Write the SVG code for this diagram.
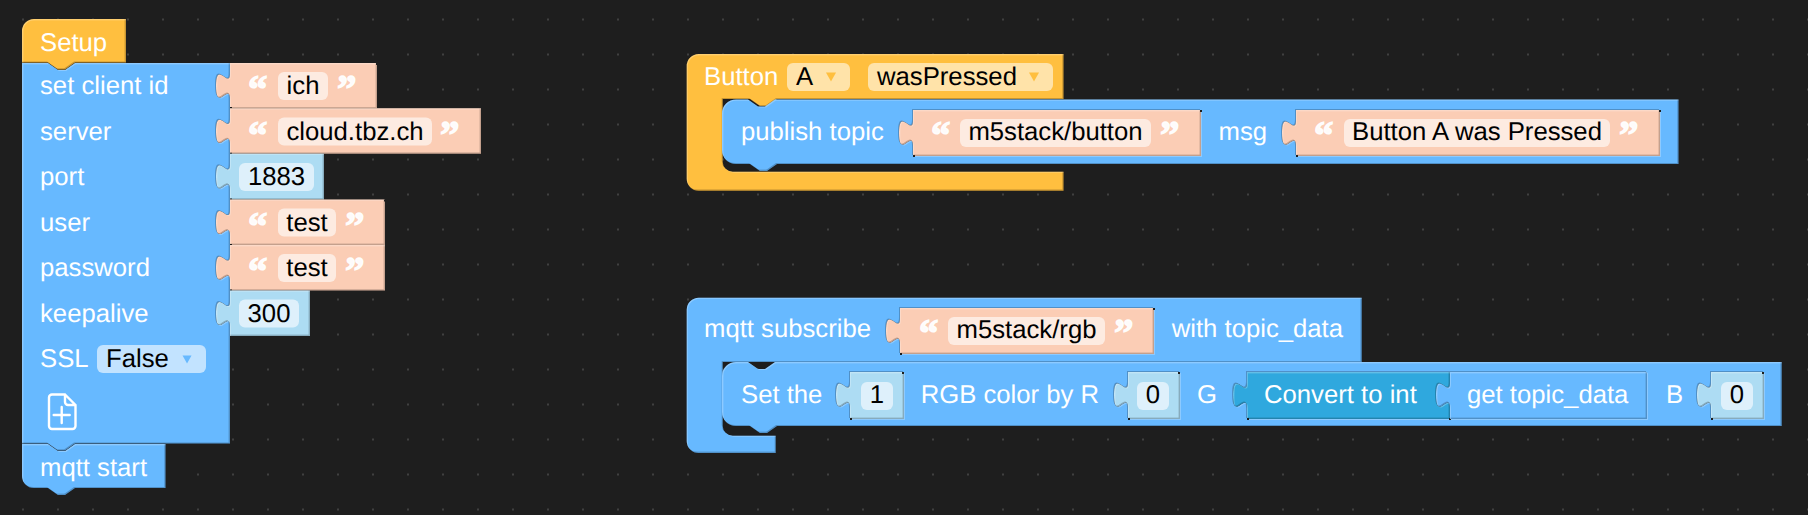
<svg xmlns="http://www.w3.org/2000/svg" width="1808" height="515" viewBox="0 0 1808 515">
<style>
text{font-family:"Liberation Sans",Arial,sans-serif;font-size:25.7px;text-rendering:geometricPrecision}
.w{fill:#fff}
.k{fill:#000;text-anchor:middle}
.l{fill:#000}
.q{font-family:"Liberation Serif","Times New Roman",serif;font-weight:bold;font-size:39px;fill:#fff;stroke:#fff;stroke-width:1.4;fill-opacity:.95;stroke-opacity:.95}
.blue,.yel,.str,.num,.cvt{filter:url(#bevel);fill-rule:evenodd}
.blue{fill:#67B9FF}
.yel{fill:#FFBF3F}
.str{fill:#FBCDB5}
.num{fill:#ADDCF3}
.cvt{fill:#2FA8DE}
.fs{fill:#FDEBE1}
.fn{fill:#DEF0FB}
.fb{fill:#C2E3FF}
.fy{fill:#FFE3A9}
.ty{fill:#FFBF3F}
.tb{fill:#67B9FF}
.sp{fill:#1E1E1E}
.ic{fill:none;stroke:#fff;stroke-width:2.4;stroke-linejoin:round;stroke-linecap:round}
</style>
<defs>
<pattern id="grid" x="22" y="18.5" width="35" height="35" patternUnits="userSpaceOnUse"><circle cx="1" cy="1" r="1" fill="#4a4a4a"/></pattern>
<filter id="bevel" x="-5%" y="-5%" width="110%" height="110%" color-interpolation-filters="sRGB">
<feOffset in="SourceAlpha" dx="-1.4" dy="-1.4" result="a"/>
<feComposite in="SourceAlpha" in2="a" operator="out" result="ea"/>
<feFlood flood-color="#000" flood-opacity=".22"/>
<feComposite in2="ea" operator="in" result="d"/>
<feOffset in="SourceAlpha" dx="1.4" dy="1.4" result="b"/>
<feComposite in="SourceAlpha" in2="b" operator="out" result="eb"/>
<feFlood flood-color="#fff" flood-opacity=".25"/>
<feComposite in2="eb" operator="in" result="h"/>
<feMerge><feMergeNode in="SourceGraphic"/><feMergeNode in="d"/><feMergeNode in="h"/></feMerge>
</filter>
</defs>
<rect width="1808" height="515" fill="#1E1E1E"/>
<rect width="1808" height="515" fill="url(#grid)"/>
<g id="connectors"/>

<g id="mqtt-start">
<path class="blue" d="M22,444 H48 l10,7 h7 l10,-7 H165.500 V488 H75 l-10,7 h-7 l-10,-7 H34 a12,12 0 0 1 -12,-12 Z"/>
<text class="w" x="40" y="476">mqtt start</text>
</g>
<g id="mqtt-setup">
<path class="blue" d="M22,63 H48 l10,7 h7 l10,-7 H230 V73 c0,17.500 -14,-14 -14,13 s14,-4.400 14,13 V118.300 c0,17.500 -14,-14 -14,13 s14,-4.400 14,13 V163.800 c0,17.500 -14,-14 -14,13 s14,-4.400 14,13 V209.500 c0,17.500 -14,-14 -14,13 s14,-4.400 14,13 V255 c0,17.500 -14,-14 -14,13 s14,-4.400 14,13 V300.500 c0,17.500 -14,-14 -14,13 s14,-4.400 14,13 V443.500 H75 l-10,7 h-7 l-10,-7 H22 Z"/>
<text class="w" x="40" y="94">set client id</text>
<text class="w" x="40" y="140">server</text>
<text class="w" x="40" y="185">port</text>
<text class="w" x="40" y="231">user</text>
<text class="w" x="40" y="276">password</text>
<text class="w" x="40" y="322">keepalive</text>
<text class="w" x="40" y="367">SSL</text>
<rect class="fb" x="97" y="345" width="109" height="28" rx="6"/>
<text class="l" x="106" y="367">False</text>
<path class="tb" d="M182.500,355.500 H191.500 L187,363.500 Z"/>
<path class="ic" d="M52,394.500 H65 L75.500,405 V426 a3,3 0 0 1 -3,3 H52 a3,3 0 0 1 -3,-3 V397.500 a3,3 0 0 1 3,-3 Z M65,394.500 V402 a3,3 0 0 0 3,3 H75.500 M61.700,407 V423 M53.700,415 H69.700"/>
</g>
<g id="setup-hat">
<path class="yel" d="M22,62.500 V31 a12,12 0 0 1 12,-12 H126 V62.500 H75 l-10,7 h-7 l-10,-7 Z"/>
<text class="w" x="40" y="51">Setup</text>
</g>
<g id="client-id">
<path class="str" d="M230,63 V73 c0,17.500 -14,-14 -14,13 s14,-4.400 14,13 V108.300 H377 V63 Z"/>
<path class="sp" d="M376,63h2v2h-2z M230,107h2v2h-2z"/>
<text class="q" x="248" y="102">“</text>
<rect class="fs" x="278" y="72" width="50" height="28" rx="6"/>
<text class="k" x="303" y="94">ich</text>
<text class="q" x="337" y="102">”</text>
</g>
<g id="server">
<path class="str" d="M230,108.300 V118.300 c0,17.500 -14,-14 -14,13 s14,-4.400 14,13 V153.800 H481 V108.300 Z"/>
<path class="sp" d="M230,152.800h2v2h-2z"/>
<text class="q" x="248" y="147.500">“</text>
<rect class="fs" x="278" y="117.500" width="154" height="28" rx="6"/>
<text class="k" x="355" y="139.500">cloud.tbz.ch</text>
<text class="q" x="440" y="147.500">”</text>
</g>
<g id="port">
<path class="num" d="M230,153.800 V163.800 c0,17.500 -14,-14 -14,13 s14,-4.400 14,13 V199.500 H324 V153.800 Z"/>
<path class="sp" d="M230,198.500h2v2h-2z"/>
<rect class="fn" x="239" y="163" width="75" height="28" rx="6"/>
<text class="k" x="276.500" y="185">1883</text>
</g>
<g id="user">
<path class="str" d="M230,199.500 V209.500 c0,17.500 -14,-14 -14,13 s14,-4.400 14,13 V245 H385 V199.500 Z"/>
<path class="sp" d="M384,199.500h2v2h-2z M230,244h2v2h-2z"/>
<text class="q" x="248" y="238.500">“</text>
<rect class="fs" x="278" y="208.500" width="58" height="28" rx="6"/>
<text class="k" x="307" y="231">test</text>
<text class="q" x="345" y="238.500">”</text>
</g>
<g id="password">
<path class="str" d="M230,245 V255 c0,17.500 -14,-14 -14,13 s14,-4.400 14,13 V290.500 H385 V245 Z"/>
<path class="sp" d="M230,289.500h2v2h-2z"/>
<text class="q" x="248" y="284">“</text>
<rect class="fs" x="278" y="254" width="58" height="28" rx="6"/>
<text class="k" x="307" y="276">test</text>
<text class="q" x="345" y="284">”</text>
</g>
<g id="keepalive">
<path class="num" d="M230,290.500 V300.500 c0,17.500 -14,-14 -14,13 s14,-4.400 14,13 V336 H310 V290.500 Z"/>
<rect class="fn" x="239" y="299.500" width="60" height="28" rx="6"/>
<text class="k" x="269" y="322">300</text>
</g>

<g id="button-event">
<path class="yel" d="M686.700,66 a12,12 0 0 1 12,-12 H1063.500 V99 H777 l-10,7 h-7 l-10,-7 H722.700 V161.700 a10,10 0 0 0 10,10 H1063.500 V190.700 H698.700 a12,12 0 0 1 -12,-12 Z"/>
<text class="w" x="704" y="85">Button</text>
<rect class="fy" x="787" y="63" width="63" height="28" rx="6"/>
<text class="l" x="796" y="85">A</text>
<path class="ty" d="M826,72.500 H836 L831,81.500 Z"/>
<rect class="fy" x="868" y="63" width="185" height="28" rx="6"/>
<text class="l" x="877" y="85">wasPressed</text>
<path class="ty" d="M1029,72.500 H1039 L1034,81.500 Z"/>
</g>
<g id="publish">
<path class="blue" d="M736,99.500 H748 l10,7 h7 l10,-7 H1678.500 V164 H777 l-10,7 h-7 l-10,-7 H736 a14,14 0 0 1 -14,-14 V113.500 a14,14 0 0 1 14,-14 Z M913,110 V120 c0,17.500 -14,-14 -14,13 s14,-4.400 14,13 V156 H1201 V110 Z M1296,110 V120 c0,17.500 -14,-14 -14,13 s14,-4.400 14,13 V156 H1660 V110 Z"/>
<text class="w" x="741" y="140">publish topic</text>
<text class="w" x="1218.500" y="140">msg</text>
</g>
<g id="publish-topic">
<path class="str" d="M913,110 V120 c0,17.500 -14,-14 -14,13 s14,-4.400 14,13 V156 H1201 V110 Z"/>
<path class="sp" d="M1200,110h2v2h-2z M913,155h2v2h-2z"/>
<text class="q" x="931" y="148">“</text>
<rect class="fs" x="960" y="119" width="191" height="28" rx="6"/>
<text class="k" x="1055.500" y="140">m5stack/button</text>
<text class="q" x="1160" y="148">”</text>
</g>
<g id="publish-msg">
<path class="str" d="M1296,110 V120 c0,17.500 -14,-14 -14,13 s14,-4.400 14,13 V156 H1660 V110 Z"/>
<path class="sp" d="M1659,110h2v2h-2z M1296,155h2v2h-2z"/>
<text class="q" x="1314" y="148">“</text>
<rect class="fs" x="1344" y="119" width="266" height="28" rx="6"/>
<text class="k" x="1477" y="140">Button A was Pressed</text>
<text class="q" x="1619" y="148">”</text>
</g>

<g id="subscribe-event">
<path class="blue" d="M686.700,309.700 a12,12 0 0 1 12,-12 H1361.700 V362 H722.700 V425.700 a10,10 0 0 0 10,10 H775.700 V453 H698.700 a12,12 0 0 1 -12,-12 Z M900,308 V318 c0,17.500 -14,-14 -14,13 s14,-4.400 14,13 V354 H1154 V308 Z"/>
<text class="w" x="704" y="337">mqtt subscribe</text>
<text class="w" x="1171.700" y="337">with topic_data</text>
</g>
<g id="subscribe-topic">
<path class="str" d="M900,308 V318 c0,17.500 -14,-14 -14,13 s14,-4.400 14,13 V354 H1154 V308 Z"/>
<path class="sp" d="M1153,308h2v2h-2z M900,353h2v2h-2z"/>
<text class="q" x="919" y="346">“</text>
<rect class="fs" x="948" y="317" width="157" height="28" rx="6"/>
<text class="k" x="1026.500" y="338">m5stack/rgb</text>
<text class="q" x="1114" y="346">”</text>
</g>
<g id="set-rgb">
<path class="blue" d="M736,362 H748 l10,7 h7 l10,-7 H1781.700 V426 H777 l-10,7 h-7 l-10,-7 H736 a14,14 0 0 1 -14,-14 V376 a14,14 0 0 1 14,-14 Z M850,372 V382 c0,17.500 -14,-14 -14,13 s14,-4.400 14,13 V419 H904 V372 Z M1128,372 V382 c0,17.500 -14,-14 -14,13 s14,-4.400 14,13 V419 H1180 V372 Z M1247,372 V382 c0,17.500 -14,-14 -14,13 s14,-4.400 14,13 V419 H1647 V372 Z M1711,372 V382 c0,17.500 -14,-14 -14,13 s14,-4.400 14,13 V419 H1764 V372 Z"/>
<text class="w" x="741" y="403">Set the</text>
<text class="w" x="920.700" y="403">RGB color by R</text>
<text class="w" x="1197" y="403">G</text>
<text class="w" x="1666" y="403">B</text>
</g>
<g id="led-index">
<path class="num" d="M850,372 V382 c0,17.500 -14,-14 -14,13 s14,-4.400 14,13 V419 H904 V372 Z"/>
<path class="sp" d="M902,372h2v2h-2z M850,418h2v2h-2z"/>
<rect class="fn" x="861" y="382" width="32" height="28" rx="6"/>
<text class="k" x="877" y="403">1</text>
</g>
<g id="red-value">
<path class="num" d="M1128,372 V382 c0,17.500 -14,-14 -14,13 s14,-4.400 14,13 V419 H1180 V372 Z"/>
<path class="sp" d="M1178,372h2v2h-2z M1128,418h2v2h-2z"/>
<rect class="fn" x="1137" y="382" width="32" height="28" rx="6"/>
<text class="k" x="1153" y="403">0</text>
</g>
<g id="convert-int">
<path class="cvt" d="M1247,372 V382 c0,17.500 -14,-14 -14,13 s14,-4.400 14,13 V419 H1450 V408 c0,-17.500 -14,14 -14,-13 s14,4.400 14,-13 V372 Z"/>
<path class="sp" d="M1247,418h2v2h-2z M1449,418h2v2h-2z"/>
<text class="w" x="1264" y="403">Convert to int</text>
</g>
<g id="get-topic-data">
<path class="blue" d="M1450,372 V382 c0,17.500 -14,-14 -14,13 s14,-4.400 14,13 V419 H1647 V372 Z"/>
<text class="w" x="1467" y="403">get topic_data</text>
</g>
<g id="blue-value">
<path class="num" d="M1711,372 V382 c0,17.500 -14,-14 -14,13 s14,-4.400 14,13 V419 H1764 V372 Z"/>
<path class="sp" d="M1762,372h2v2h-2z M1711,418h2v2h-2z"/>
<rect class="fn" x="1721" y="382" width="32" height="28" rx="6"/>
<text class="k" x="1737" y="403">0</text>
</g>
</svg>
